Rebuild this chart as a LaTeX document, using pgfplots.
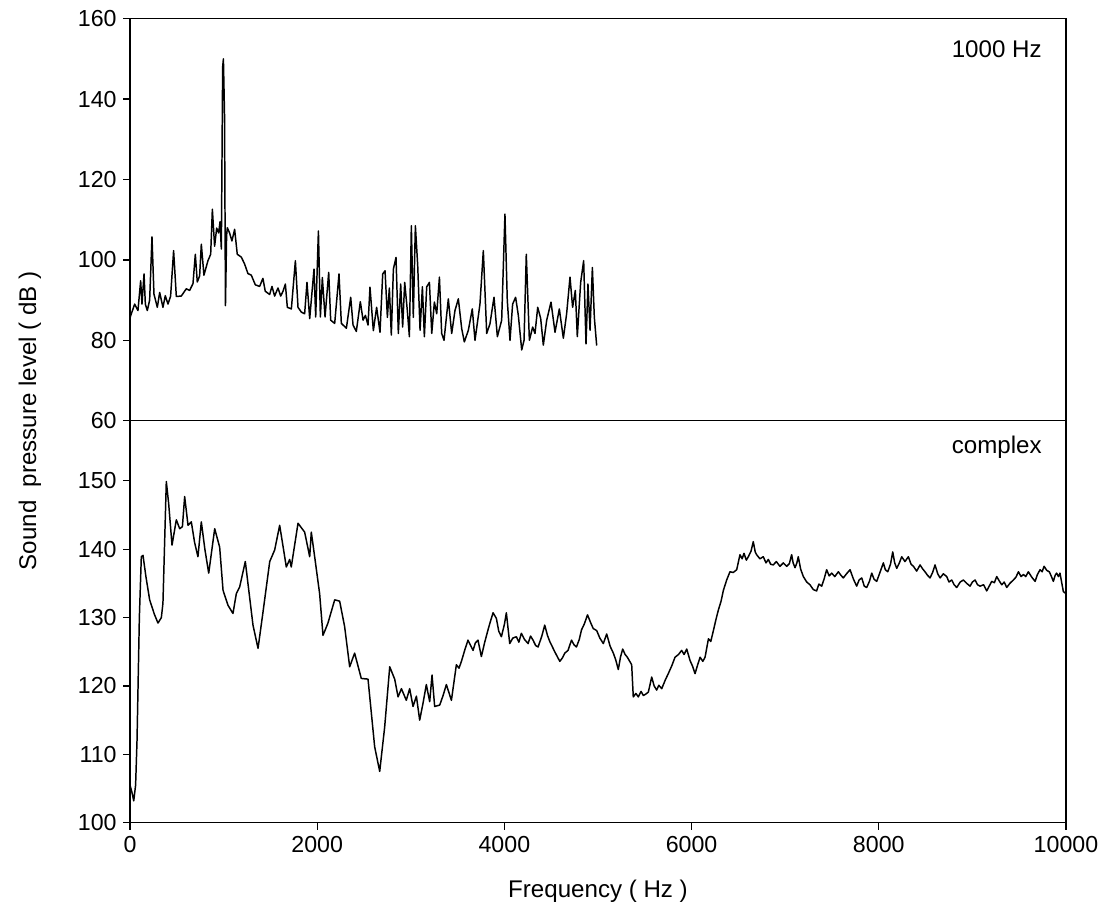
\documentclass[border=0pt]{standalone}
\usepackage{pgfplots}
\pgfplotsset{compat=1.18}
\usepackage{fontspec}
\setmainfont{Liberation Sans}

% 1 px of the reference = 0.01895cm
\pgfplotsset{
  panel/.style={
    scale only axis,
    width=17.737cm, height=7.618cm,
    xmin=0, xmax=10000,
    axis line style={line width=0.7pt},
    tick pos=left, tick align=outside,
    major tick length=0.13cm,
    every tick/.style={line width=0.7pt, black},
    tick label style={font=\fontsize{12.5}{14}\selectfont},
    /pgf/number format/assume math mode=true,
    /pgf/number format/1000 sep={},
    scaled ticks=false,
    clip=false,
  },
}

\begin{document}
\begin{tikzpicture}
\begin{axis}[panel, name=bot,
    ymin=100, ymax=158.8,
    ytick={100,110,...,150},
    xtick={0,2000,...,10000},
  ]
\addplot[black, line width=0.8pt, line join=round] table {
x y
0 105.5
20 104.5
40 103.2
60 105.5
75 112
100 130
121 138.9
139 139.1
170 136
210 132.6
260 130.5
299 129.2
335 130.0
352 132.1
388 149.9
413 146.7
449 140.6
495 144.3
531 143.0
560 143.3
584 147.7
620 143.5
655 144.0
690 141
726 138.9
762 144.0
800 140
841 136.5
905 143.0
958 140.3
994 134.0
1047 131.8
1100 130.6
1136 133.5
1172 134.5
1232 138.2
1314 128.9
1368 125.5
1421 130.8
1493 138.2
1546 139.9
1599 143.5
1640 140
1670 137.4
1706 138.5
1723 137.4
1795 143.8
1866 142.5
1920 138.9
1937 142.5
1973 138.9
2026 133.5
2062 127.4
2115 129.2
2187 132.6
2240 132.4
2293 128.7
2347 122.8
2400 124.8
2471 121.1
2543 121.0
2614 111.1
2668 107.5
2721 114.0
2775 122.8
2828 121.0
2864 118.4
2900 119.6
2952 117.9
2988 119.6
3024 117.0
3060 118.5
3095 115.0
3131 117.5
3166 120.2
3202 117.7
3227 121.6
3255 117.0
3309 117.2
3345 118.6
3380 120.2
3434 117.9
3487 123.1
3515 122.6
3541 123.6
3580 125.4
3611 126.7
3640 125.9
3665 125.2
3690 126.3
3718 126.7
3754 124.3
3790 126.4
3825 128.2
3850 129.4
3879 130.7
3914 129.9
3940 128.0
3968 127.2
4000 129.0
4021 130.7
4057 126.2
4090 127.0
4128 127.2
4155 126.4
4181 127.7
4215 126.8
4253 126.2
4280 127.3
4306 126.7
4335 125.9
4360 125.7
4400 127.3
4431 128.9
4460 127.4
4485 126.5
4510 125.8
4538 125.0
4565 124.3
4592 123.6
4620 124.1
4645 124.8
4680 125.2
4717 126.7
4745 126.0
4770 125.7
4800 126.8
4824 128.2
4855 129.1
4888 130.4
4920 129.3
4949 128.4
4986 128.1
5020 127.0
5057 126.2
5093 127.6
5130 125.8
5164 124.8
5190 123.8
5217 122.4
5240 124.2
5264 125.4
5290 124.6
5314 124.2
5360 123.1
5377 118.4
5405 118.9
5431 118.4
5460 119.2
5485 118.6
5510 118.8
5538 119.1
5574 121.3
5600 120.0
5627 119.4
5650 120.1
5681 119.6
5720 120.9
5751 121.8
5790 123.0
5823 124.2
5860 124.6
5894 125.2
5920 124.6
5948 125.4
5984 123.7
6010 122.9
6037 121.8
6065 123.1
6091 124.2
6120 123.6
6144 124.2
6180 126.9
6205 126.5
6233 128.1
6260 129.7
6286 131.1
6315 132.4
6340 134.0
6375 135.5
6410 136.7
6445 136.6
6482 137.0
6517 139.2
6540 138.6
6560 139.4
6585 138.4
6606 138.9
6635 139.7
6659 141.1
6680 139.6
6695 139.2
6730 138.6
6766 138.9
6795 138.0
6820 138.5
6845 137.8
6873 137.7
6905 138.2
6944 137.5
6980 138.0
7016 137.5
7045 137.9
7069 139.2
7085 138.0
7105 137.3
7125 138.0
7140 138.9
7165 137.1
7194 136.0
7230 135.2
7265 134.8
7300 134.1
7336 133.9
7360 134.9
7390 134.6
7415 135.6
7443 137.0
7470 136.1
7497 136.5
7530 136.0
7568 136.7
7595 136.2
7621 135.8
7655 136.4
7693 137.0
7730 135.6
7764 134.6
7790 135.5
7818 135.8
7845 134.6
7871 134.4
7900 135.3
7925 136.5
7950 135.6
7978 135.3
8015 136.7
8049 138.0
8070 137.0
8096 136.7
8125 137.8
8149 139.6
8170 138.0
8192 137.2
8220 138.0
8245 138.9
8280 138.2
8316 138.9
8345 137.8
8370 137.5
8405 136.8
8441 137.7
8470 137.1
8494 136.7
8520 136.2
8548 135.8
8575 136.6
8601 137.7
8630 136.4
8655 135.8
8690 136.4
8726 136.0
8750 135.2
8779 135.5
8805 134.8
8833 134.4
8870 135.2
8904 135.5
8940 135.0
8975 134.6
9000 135.2
9029 135.5
9055 134.8
9082 134.6
9120 134.8
9153 133.9
9180 134.6
9207 135.3
9235 135.1
9260 136.0
9290 135.3
9314 134.8
9340 135.2
9367 134.4
9400 135.0
9438 135.5
9465 135.9
9492 136.7
9520 136.0
9545 136.3
9570 136.0
9598 136.7
9635 135.9
9670 135.3
9695 136.3
9723 137.0
9745 136.7
9766 137.5
9795 136.9
9822 136.7
9845 136.0
9865 135.3
9885 136.2
9900 136.5
9920 136.0
9936 136.5
9972 133.8
10000 133.5
};
\node[anchor=east, font=\fontsize{13}{15}\selectfont] at (axis description cs:0.981,0.935) {complex};
\end{axis}

\begin{axis}[panel, name=top,
    at={(bot.north west)}, anchor=south west,
    ymin=60, ymax=160,
    ytick={60,80,...,160},
    xtick=\empty,
  ]
\addplot[black, line width=0.8pt, line join=round] table {
x y
0 85.5
7 86.1
50 89.0
85 87.4
114 94.8
128 89.0
150 96.5
164 89.0
185 87.4
210 90.0
235 105.7
256 91.5
292 88.2
317 91.9
352 88.2
377 91.1
406 89.0
434 91.0
466 102.3
495 90.9
548 91.0
601 92.8
637 92.4
673 94.1
698 101.4
719 94.5
744 96.0
762 103.9
790 96.2
833 99.8
862 101.4
880 112.6
904 103.4
926 107.9
947 106.7
962 109.5
976 102.7
990 148.0
998 150.0
1010 136.0
1020 88.6
1032 106.0
1040 108.0
1064 106.7
1089 104.7
1118 107.6
1146 101.4
1189 100.7
1224 99.0
1260 96.6
1296 96.2
1339 93.8
1385 93.4
1420 95.4
1445 92.2
1492 91.4
1517 93.4
1545 91.0
1581 93.0
1610 91.0
1635 92.2
1660 94.0
1681 88.2
1724 87.8
1767 99.8
1795 88.2
1831 87.0
1866 86.6
1891 94.4
1920 85.4
1966 97.7
1984 85.8
2013 107.2
2034 85.8
2055 95.6
2084 85.8
2123 96.9
2144 85.0
2187 84.2
2233 96.5
2258 84.2
2312 83.0
2358 90.7
2383 83.8
2418 82.2
2461 89.6
2490 85.0
2515 86.2
2543 83.8
2564 93.2
2600 82.4
2635 88.2
2671 82.0
2700 96.5
2725 97.3
2750 85.7
2771 93.0
2792 81.3
2814 97.7
2842 100.6
2867 81.7
2892 94.0
2913 83.3
2935 94.4
2963 87.4
2985 80.9
3006 108.5
3027 85.7
3049 108.5
3074 98.6
3099 82.5
3124 93.3
3145 80.9
3170 93.3
3199 94.4
3224 81.7
3252 89.5
3277 86.6
3306 95.7
3330 81.7
3355 80.0
3401 90.3
3437 81.7
3472 87.4
3508 90.3
3544 82.9
3572 79.6
3615 82.5
3657 87.8
3686 80.0
3739 89.0
3775 102.3
3811 81.7
3846 84.1
3889 90.7
3925 80.9
3971 85.0
4006 111.4
4031 89.9
4060 80.0
4088 89.0
4120 90.7
4149 86.2
4185 77.6
4210 80.0
4234 101.4
4267 80.0
4302 83.3
4327 81.7
4356 88.2
4388 85.4
4416 78.8
4452 85.0
4498 89.5
4541 82.0
4587 87.8
4630 80.5
4665 86.6
4701 95.7
4729 88.2
4758 92.4
4779 80.9
4815 94.4
4847 99.8
4872 79.1
4893 94.0
4915 82.5
4940 98.1
4961 85.7
4986 78.7
};
\node[anchor=east, font=\fontsize{13}{15}\selectfont] at (axis description cs:0.981,0.925) {1000 Hz};
\end{axis}

\node[rotate=90, font=\fontsize{13}{15}\selectfont] at ([xshift=-1.895cm]bot.north west) {Sound\ \ pressure level ( dB )};
\node[font=\fontsize{13}{15}\selectfont] at ([yshift=-1.3cm]bot.south) {Frequency ( Hz )};
% page size of the reference
\path ([xshift=-2.4635cm, yshift=-1.787cm]bot.south west) rectangle ++(20.997cm, 17.377cm);
\end{tikzpicture}
\end{document}
